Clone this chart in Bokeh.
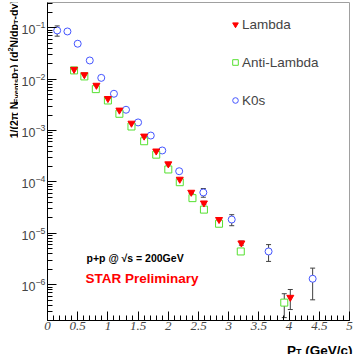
import math
from bokeh.plotting import figure
from bokeh.layouts import row, column
from bokeh.models import (Range1d, FixedTicker, SingleIntervalTicker, Whisker,
                          ColumnDataSource, Label, Legend, LegendItem, TeeHead)
from bokeh.embed import file_html
from bokeh.resources import INLINE

# ---------------- data ----------------
k0s_pt = [0.16, 0.33, 0.50, 0.70, 0.89, 1.10, 1.30, 1.50, 1.71, 1.90, 2.18, 2.58, 3.05, 3.66, 4.39]
k0s_y = [0.0886, 0.0847, 0.0489, 0.0231, 0.0106, 0.0052, 0.00254, 0.00144, 0.00080,
         0.00041, 0.000162, 6.25e-5, 1.86e-5, 4.45e-6, 1.31e-6]
k0s_err = [0.02, 0.006, 0.002, 0.0008, 0.0003, 0.00015, 7e-5, 4e-5, 2.5e-5,
           1.2e-5, 6e-6, 1.2e-5, 4.5e-6, 1.6e-6, 0.8e-6]

lam_pt = [0.44, 0.61, 0.81, 1.00, 1.19, 1.39, 1.60, 1.80, 2.00, 2.19, 2.38, 2.59, 2.84, 3.21, 4.02]
lam_y = [0.0155, 0.0122, 0.0076, 0.0042, 0.0025, 0.00139, 0.00078, 0.00040, 0.000225,
         0.000113, 6.3e-5, 3.9e-5, 1.86e-5, 6.5e-6, 5.7e-7]
lam_err = [0.0008, 0.0006, 0.0003, 0.00015, 9e-5, 5e-5, 3e-5, 1.6e-5, 9e-6,
           5e-6, 3e-6, 2e-6, 1.2e-6, 6e-7, 2.4e-7]

alam_pt = [0.44, 0.61, 0.80, 1.00, 1.19, 1.39, 1.60, 1.80, 2.00, 2.19, 2.40, 2.59, 2.84, 3.20, 3.92]
alam_y = [0.0148, 0.0113, 0.0064, 0.00385, 0.00212, 0.00120, 0.00062, 0.00034, 0.000175,
          9.9e-5, 4.85e-5, 2.9e-5, 1.54e-5, 4.45e-6, 4.5e-7]
alam_err = [0.0008, 0.0006, 0.0003, 0.00015, 8e-5, 5e-5, 2.5e-5, 1.4e-5, 8e-6,
            4.5e-6, 2.5e-6, 1.8e-6, 1.0e-6, 5e-7, 2.2e-7]

series_names = ["Lambda", "Anti-Lambda", "K0s"]
x_ticks_interval = 0.5
y_decades = [1e-6, 1e-5, 1e-4, 1e-3, 1e-2, 1e-1]

# ---------------- styling ----------------
RED = "#ff0000"
GREEN = "#55e030"
BLUE = "#4455ff"
ERRC = "#404040"

TW = 18          # width of the strip carrying the y title
PW = 354 - TW    # main plot width
PH = 336         # main plot height
XH = 354 - PH    # strip carrying the x title

p = figure(width=PW, height=PH, y_axis_type="log",
           x_range=Range1d(0, 5), y_range=Range1d(2.02e-7, 0.310),
           output_backend="svg", toolbar_location=None,
           min_border_left=27, min_border_right=5, min_border_top=2, min_border_bottom=16)
p.background_fill_color = "white"
p.border_fill_color = "white"
p.outline_line_color = "#a0a0a0"
p.outline_line_width = 1
p.xgrid.visible = False
p.ygrid.visible = False

p.xaxis.ticker = SingleIntervalTicker(interval=x_ticks_interval, num_minor_ticks=5)
minor = [m * d / 10 for d in y_decades + [1.0] for m in range(2, 10)]
p.yaxis.ticker = FixedTicker(ticks=y_decades, minor_ticks=minor)
for ax in (p.xaxis[0], p.yaxis[0]):
    ax.axis_line_color = "black"
    ax.axis_line_width = 1
    ax.major_tick_in = 9
    ax.major_tick_out = 0
    ax.minor_tick_in = 5
    ax.minor_tick_out = 0
    ax.major_tick_line_color = "black"
    ax.minor_tick_line_color = "black"
p.xaxis.major_label_text_font = "Liberation Serif"
p.xaxis.major_label_text_font_style = "italic"
p.xaxis.major_label_text_font_size = "13px"
p.xaxis.major_label_standoff = 1
p.yaxis.major_label_text_font = "Liberation Sans"
p.yaxis.major_label_text_font_size = "12.5px"
p.yaxis.major_label_standoff = 2

def add_err(xs, ys, es):
    src = ColumnDataSource(dict(x=xs, lo=[y - e for y, e in zip(ys, es)],
                                hi=[y + e for y, e in zip(ys, es)]))
    w = Whisker(source=src, base="x", lower="lo", upper="hi", dimension="height",
                line_color=ERRC, line_width=1, level="underlay",
                upper_head=TeeHead(size=5, line_color=ERRC, line_width=1),
                lower_head=TeeHead(size=5, line_color=ERRC, line_width=1))
    p.add_layout(w)

add_err(k0s_pt, k0s_y, k0s_err)
add_err(alam_pt, alam_y, alam_err)
add_err(lam_pt, lam_y, lam_err)

r_k0s = p.scatter(k0s_pt, k0s_y, marker="circle", size=7, line_color=BLUE,
                  fill_color="white", line_width=1)
r_alam = p.scatter(alam_pt, alam_y, marker="square", size=7, line_color=GREEN,
                   fill_color="white", line_width=1)
r_lam = p.scatter(lam_pt, lam_y, marker="inverted_triangle", size=7, line_color=RED,
                  fill_color=RED, line_width=1)

legend = Legend(items=[LegendItem(label=series_names[0], renderers=[r_lam]),
                       LegendItem(label=series_names[1], renderers=[r_alam]),
                       LegendItem(label=series_names[2], renderers=[r_k0s])],
                location=(181, 210), padding=0, margin=0, spacing=18,
                glyph_width=14, glyph_height=14, label_height=20, label_standoff=0,
                label_text_font="Liberation Sans", label_text_font_size="13.5px",
                border_line_color=None, background_fill_alpha=0)
p.add_layout(legend)


def lab(fig, x, y, text, size, color="black", style="bold", angle=0.0, font="Liberation Sans",
        align="left"):
    fig.add_layout(Label(x=x, y=y, x_units="screen", y_units="screen", text=text,
                         text_font=font, text_font_size=f"{size}px", text_font_style=style,
                         text_color=color, angle=angle, text_baseline="alphabetic",
                         text_align=align))

lab(p, 39, 62.5, "p+p @ \u221as = 200GeV", 10.5)
lab(p, 38, 42, "STAR Preliminary", 13.5, color=RED)


def strip(w, h):
    f = figure(width=w, height=h, x_range=Range1d(0, 1), y_range=Range1d(0, 1),
               output_backend="svg", toolbar_location=None,
               x_axis_location=None, y_axis_location=None,
               min_border=0, min_border_left=0, min_border_right=0,
               min_border_top=0, min_border_bottom=0)
    f.outline_line_color = None
    f.grid.visible = False
    f.background_fill_color = "white"
    f.border_fill_color = "white"
    return f

# y-axis title (rotated, built from pieces with sub/superscripts)
ty = strip(TW, PH)
MAIN, SCR = 10.5, 7.5
pieces = [("1/(2\u03c0 N", MAIN, 0, 3.323), ("Events", SCR, -1, 3.279), ("p", MAIN, 0, 0.611),
          ("T", SCR, -1, 0.611), (") (d", MAIN, 0, 1.555), ("2", SCR, 1, 0.556),
          ("N/dp", MAIN, 0, 2.222), ("T", SCR, -1, 0.611), ("-dy)", MAIN, 0, 1.833),
          ("y=0", SCR, -1, 1.696)]
total = sum(sz * w for _, sz, _, w in pieces)
yy = PH - 3 - total
base_x = 13.5
for t, sz, sh, w in pieces:
    xoff = base_x + (2.2 if sh < 0 else (-4 if sh > 0 else 0))
    lab(ty, xoff, yy, t, sz, angle=math.pi / 2)
    yy += sz * w

# x-axis title (full-width strip under the plot), right-aligned pieces
tx = strip(354, XH)
xr = 352
gev_w = 13.5 * 3.501
space_w = 13.5 * 0.278
t_w = 9 * 0.611
lab(tx, xr, 4.5, "(GeV/c)", 13.5, align="right")
lab(tx, xr - gev_w - space_w, 3.0, "T", 9, align="right")
lab(tx, xr - gev_w - space_w - t_w, 4.5, "P", 13.5, align="right")

layout = column(row(ty, p, spacing=0), tx, spacing=0)
open("out.html", "w").write(file_html(layout, INLINE))
